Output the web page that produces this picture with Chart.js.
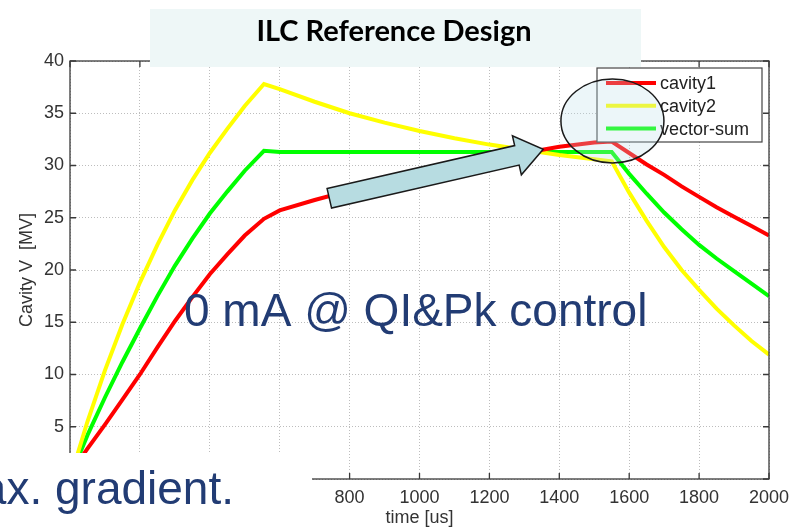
<!DOCTYPE html>
<html>
<head>
<meta charset="utf-8">
<script src="https://cdn.jsdelivr.net/npm/chart.js@4.4.1/dist/chart.umd.min.js"></script>
<style>
  html, body { margin: 0; padding: 0; background: #fff; }
  #wrap { width: 805px; height: 527px; }
</style>
</head>
<body>
<div id="wrap"><canvas id="chart" width="805" height="527"></canvas></div>
<script>
// values (time in us, cavity voltage in MV)
const timeUs = [0, 50, 100, 150, 200, 250, 300, 350, 400, 450, 500, 555,
  600, 700, 800, 900, 1000, 1100, 1200, 1300, 1400, 1500, 1550,
  1600, 1650, 1700, 1750, 1800, 1850, 1900, 1950, 2000];
const cavity1 = [0.5, 2.9, 5.2, 7.6, 10.0, 12.6, 15.1, 17.4, 19.6, 21.5, 23.3, 24.9,
  25.7, 26.7, 27.6, 28.4, 29.2, 29.9, 30.6, 31.2, 31.8, 32.2, 32.3,
  31.2, 30.1, 29.1, 28.0, 27.0, 26.0, 25.1, 24.2, 23.3];
const cavity2 = [0, 5.5, 10.4, 14.8, 18.8, 22.4, 25.7, 28.6, 31.2, 33.5, 35.7, 37.8,
  37.3, 36.1, 35.0, 34.1, 33.3, 32.6, 32.0, 31.5, 31.0, 30.6, 30.4,
  27.4, 24.7, 22.2, 20.0, 18.1, 16.3, 14.7, 13.2, 11.9];
const vectorSum = [0.2, 4.2, 7.8, 11.2, 14.4, 17.5, 20.4, 23.0, 25.4, 27.5, 29.5, 31.4,
  31.3, 31.3, 31.3, 31.3, 31.3, 31.3, 31.3, 31.3, 31.3, 31.3, 31.3,
  29.2, 27.3, 25.5, 23.9, 22.4, 21.1, 19.9, 18.7, 17.5];
const xTicks = [0, 200, 400, 600, 800, 1000, 1200, 1400, 1600, 1800, 2000];
const yTicks = [0, 5, 10, 15, 20, 25, 30, 35, 40];

const toPoints = arr => arr.map((v, i) => ({ x: timeUs[i], y: v }));
const FONT = '"Liberation Sans", Arial, sans-serif';
const NAVY = '#223c74';

// slide decorations + matlab style frame and legend
const slideOverlay = {
  id: 'slideOverlay',
  afterDraw(chart) {
    const { ctx, chartArea: a, scales: { x, y } } = chart;
    ctx.save();

    // box frame with inward ticks
    ctx.strokeStyle = '#3a3a3a';
    ctx.lineWidth = 1.3;
    ctx.strokeRect(a.left, a.top, a.right - a.left, a.bottom - a.top);
    ctx.beginPath();
    xTicks.forEach(v => {
      const px = x.getPixelForValue(v);
      ctx.moveTo(px, a.bottom); ctx.lineTo(px, a.bottom - 6);
      ctx.moveTo(px, a.top); ctx.lineTo(px, a.top + 6);
    });
    yTicks.forEach(v => {
      const py = y.getPixelForValue(v);
      ctx.moveTo(a.left, py); ctx.lineTo(a.left + 6, py);
      ctx.moveTo(a.right, py); ctx.lineTo(a.right - 6, py);
    });
    ctx.stroke();

    // legend (top right, inside the axes)
    const lx = a.right - 172, ly = a.top + 7, lw = 165, lh = 74;
    ctx.fillStyle = '#fff';
    ctx.fillRect(lx, ly, lw, lh);
    ctx.strokeStyle = '#444';
    ctx.lineWidth = 1.2;
    ctx.strokeRect(lx, ly, lw, lh);
    ctx.font = '18px ' + FONT;
    ctx.textBaseline = 'middle';
    ctx.textAlign = 'left';
    chart.data.datasets.forEach((ds, i) => {
      const ry = ly + 15 + i * 22.8;
      ctx.strokeStyle = ds.borderColor;
      ctx.lineWidth = 4;
      ctx.beginPath();
      ctx.moveTo(lx + 9, ry); ctx.lineTo(lx + 59, ry);
      ctx.stroke();
      ctx.fillStyle = '#222';
      ctx.fillText(ds.label, lx + 63, ry + 1);
    });

    // white patch bottom-left with cut-off slide text
    ctx.fillStyle = '#fff';
    ctx.fillRect(0, 453, 312, 74);
    ctx.fillStyle = NAVY;
    ctx.font = '46px ' + FONT;
    ctx.textAlign = 'right';
    ctx.textBaseline = 'alphabetic';
    ctx.fillText('ax. gradient.', 234, 504);

    // slide title box
    ctx.fillStyle = '#eef7f7';
    ctx.fillRect(150, 9, 491, 58);
    ctx.fillStyle = '#000';
    ctx.font = 'bold 29px Lato, "Open Sans", sans-serif';
    ctx.textAlign = 'center';
    ctx.fillText('ILC Reference Design', 394, 41);

    // overlay annotation text
    ctx.fillStyle = NAVY;
    ctx.font = '46px ' + FONT;
    ctx.textAlign = 'left';
    ctx.fillText('0 mA @ QI&Pk control', 184, 326);

    // block arrow
    const bx = x.getPixelForValue(742), by = y.getPixelForValue(26.86);
    const tx = x.getPixelForValue(1354), ty = y.getPixelForValue(31.55);
    const len = Math.hypot(tx - bx, ty - by);
    ctx.translate(bx, by);
    ctx.rotate(Math.atan2(ty - by, tx - bx));
    ctx.beginPath();
    ctx.moveTo(0, -10); ctx.lineTo(len - 27, -10); ctx.lineTo(len - 27, -20);
    ctx.lineTo(len, 0); ctx.lineTo(len - 27, 20); ctx.lineTo(len - 27, 10);
    ctx.lineTo(0, 10); ctx.closePath();
    ctx.fillStyle = '#b7dce1';
    ctx.fill();
    ctx.strokeStyle = '#1a1a1a';
    ctx.lineWidth = 1.5;
    ctx.stroke();
    ctx.setTransform(1, 0, 0, 1, 0, 0);

    // ellipse around the peak
    const ex = x.getPixelForValue(1552), ey = y.getPixelForValue(34.26);
    ctx.beginPath();
    ctx.ellipse(ex, ey, 51.5, 42, 0, 0, Math.PI * 2);
    ctx.fillStyle = 'rgba(185, 222, 235, 0.28)';
    ctx.fill();
    ctx.strokeStyle = '#1a1a1a';
    ctx.lineWidth = 1.5;
    ctx.stroke();

    ctx.restore();
  }
};

const ctx = document.getElementById('chart').getContext('2d');
new Chart(ctx, {
  type: 'line',
  data: {
    datasets: [
      { label: 'cavity1', data: toPoints(cavity1), borderColor: '#ff0000' },
      { label: 'cavity2', data: toPoints(cavity2), borderColor: '#ffff00' },
      { label: 'vector-sum', data: toPoints(vectorSum), borderColor: '#00ff00' }
    ]
  },
  options: {
    responsive: false,
    animation: false,
    devicePixelRatio: 1,
    layout: { padding: { left: 18, top: 61, right: 36, bottom: 0 } },
    elements: {
      line: { borderWidth: 4, tension: 0, fill: false },
      point: { radius: 0 }
    },
    plugins: { legend: { display: false }, tooltip: { enabled: false } },
    scales: {
      x: {
        type: 'linear',
        min: 0, max: 2000,
        afterFit: s => { s.height = 48; },
        ticks: { stepSize: 200, color: '#333', padding: 8, font: { size: 18, family: FONT },
          callback: v => String(v) },
        grid: { color: '#bdbdbd', lineWidth: 1, drawTicks: false },
        border: { display: false, dash: [1, 2] },
        title: { display: true, text: 'time [us]', color: '#333', padding: 0,
          font: { size: 18, family: FONT, lineHeight: 1 } }
      },
      y: {
        min: 0, max: 40,
        afterFit: s => { s.width = 52; },
        ticks: { stepSize: 5, color: '#333', padding: 6, font: { size: 18, family: FONT },
          callback: v => String(v) },
        grid: { color: '#bdbdbd', lineWidth: 1, drawTicks: false },
        border: { display: false, dash: [1, 2] },
        title: { display: true, text: 'Cavity V  [MV]', color: '#333', padding: 0,
          font: { size: 18, family: FONT, lineHeight: 1 } }
      }
    }
  },
  plugins: [slideOverlay]
});
</script>
</body>
</html>
